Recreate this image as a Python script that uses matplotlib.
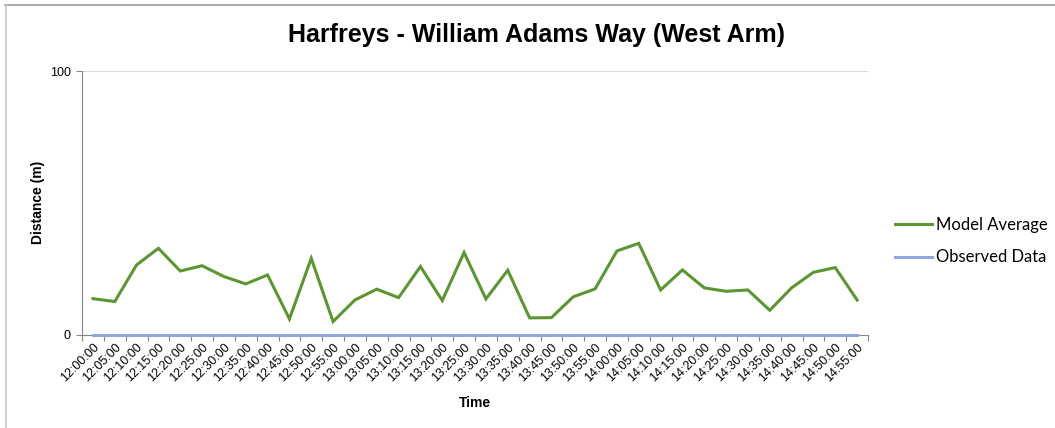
import numpy as np
import matplotlib
matplotlib.use("Agg")
import matplotlib.pyplot as plt
from matplotlib.lines import Line2D

plt.rcParams['font.family'] = ['Liberation Sans', 'DejaVu Sans']

times = ["12:00:00", "12:05:00", "12:10:00", "12:15:00", "12:20:00", "12:25:00",
         "12:30:00", "12:35:00", "12:40:00", "12:45:00", "12:50:00", "12:55:00",
         "13:00:00", "13:05:00", "13:10:00", "13:15:00", "13:20:00", "13:25:00",
         "13:30:00", "13:35:00", "13:40:00", "13:45:00", "13:50:00", "13:55:00",
         "14:00:00", "14:05:00", "14:10:00", "14:15:00", "14:20:00", "14:25:00",
         "14:30:00", "14:35:00", "14:40:00", "14:45:00", "14:50:00", "14:55:00"]
model_avg = [13.6, 12.5, 26.4, 32.7, 24.1, 26.1, 22.0, 19.2, 22.6, 5.9, 28.9, 4.9,
             13.1, 17.2, 14.0, 25.8, 12.9, 31.1, 13.5, 24.4, 6.3, 6.4, 14.3, 17.3,
             31.7, 34.6, 16.9, 24.5, 17.7, 16.4, 16.9, 9.2, 17.7, 23.6, 25.4, 13.1]
observed = [0.0] * len(times)

fig = plt.figure(figsize=[10.55, 4.28], dpi=100)
ax = fig.add_axes([82/1055, 1-334.5/428, 786/1055, 263.5/428])

x = np.arange(len(times))
ax.plot(x, model_avg, "-", color="#5b9632", lw=2.2, solid_joinstyle="miter", zorder=3)
ax.plot(x, observed, "-", color="#8fa8de", lw=2.2, zorder=4, clip_on=False)

ax.set_xlim(-0.5, len(times) - 0.5)
ax.set_ylim(0, 100)
ax.set_yticks([0, 100])
ax.set_yticklabels(["0", "100"], fontsize=9)
ax.axhline(100, color="#d9d9d9", lw=0.8, zorder=1)

# ticks between categories, labels at the centres
ax.set_xticks(np.arange(len(times) + 1) - 0.5)
ax.set_xticklabels([])
ax.set_xticks(x, minor=True)
ax.set_xticklabels(times, minor=True, rotation=45, ha="right", va="top",
                   rotation_mode="anchor", fontsize=9)
ax.tick_params(axis="x", which="major", length=4, color="#868686", direction="out")
ax.tick_params(axis="x", which="minor", length=0, pad=5)
ax.tick_params(axis="y", length=4, color="#868686", pad=4)

for s in ["top", "right"]:
    ax.spines[s].set_visible(False)
ax.spines["left"].set_color("#868686")
ax.spines["bottom"].set_color("#868686")

ax.set_ylabel("Distance (m)", fontsize=10, fontweight="bold")
ax.yaxis.set_label_coords(-37/786, 0.5)
ax.set_xlabel("Time", fontsize=10, fontweight="bold", labelpad=8)

fig.text(536/1055, 1-35/428, "Harfreys - William Adams Way (West Arm)",
         fontsize=18, fontweight="bold", ha="center", va="center")

handles = [Line2D([], [], color="#5b9632", lw=2.2),
           Line2D([], [], color="#8fa8de", lw=2.2)]
fig.legend(handles, ["Model Average", "Observed Data"], loc="center left",
           bbox_to_anchor=(880/1055, 1-241/428), frameon=False,
           handlelength=2.2, handletextpad=0.25, labelspacing=1.0,
           prop={"family": ["Lato", "DejaVu Sans"], "size": 12})

# chart frame (top and left visible)
fig.add_artist(Line2D([5/1055, 1], [1-5/428, 1-5/428], color="#9a9a9a", lw=1.2,
                      transform=fig.transFigure))
fig.add_artist(Line2D([5.5/1055, 5.5/1055], [0, 1-5/428], color="#c8c8c8", lw=1.2,
                      transform=fig.transFigure))

fig.savefig("out.png", dpi=100)
